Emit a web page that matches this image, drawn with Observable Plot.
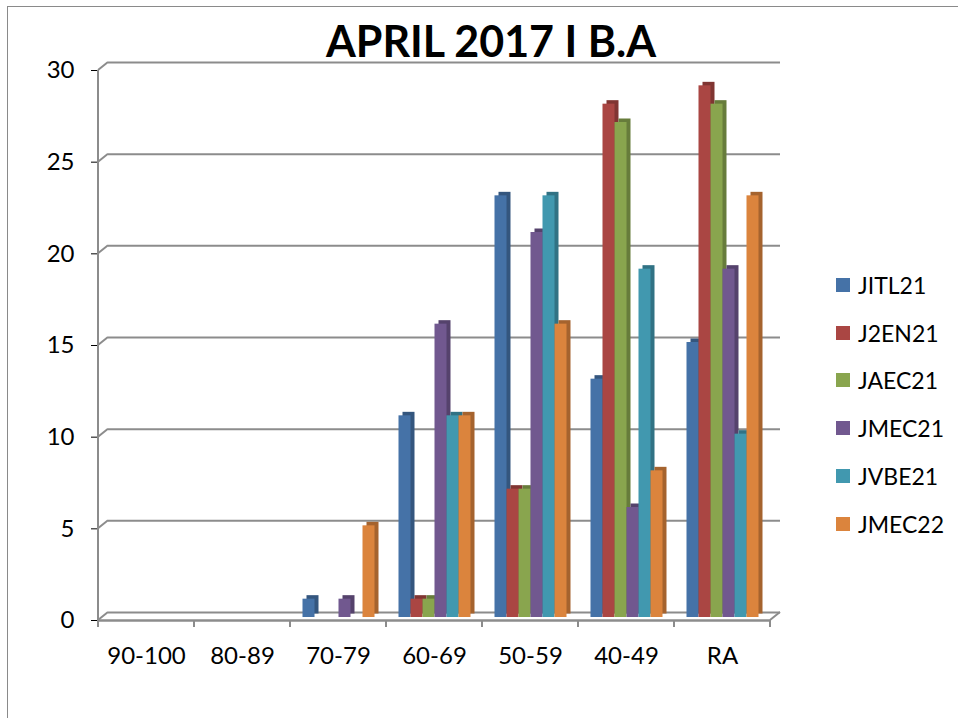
<!DOCTYPE html>
<html><head><meta charset="utf-8">
<script src="https://cdn.jsdelivr.net/npm/d3@7"></script>
<script src="https://cdn.jsdelivr.net/npm/@observablehq/plot@0.6"></script>
<style>
body{margin:0;background:#fff;font-family:Lato,sans-serif}
#wrap{position:relative;width:958px;height:718px;overflow:hidden;background:#fff}
#border{position:absolute;left:7px;top:6px;width:1100px;height:900px;border-left:1.5px solid #8a8a8a;border-top:1.5px solid #8a8a8a}
#title{position:absolute;left:0;width:982px;top:19px;text-align:center;font:bold 43px/43px Lato,sans-serif;color:#000}
#chart{position:absolute;left:0;top:0}
#legend{position:absolute;left:836px;top:261px}
.row{height:47.8px;display:flex;align-items:center;font:23px Lato,sans-serif;color:#000}
.sw{width:14px;height:14px;margin-right:8px}
</style></head>
<body>
<div id="wrap">
  <div id="border"></div>
  <div id="chart"></div>
  <div id="title">APRIL 2017 I B.A</div>
  <div id="legend"></div>
</div>
<script>
const categories = ["90-100","80-89","70-79","60-69","50-59","40-49","RA"];
const series = ["JITL21","J2EN21","JAEC21","JMEC21","JVBE21","JMEC22"];
const JITL21 = [0,0,1,11,23,13,15];
const J2EN21 = [0,0,0,1,7,28,29];
const JAEC21 = [0,0,0,1,7,27,28];
const JMEC21 = [0,0,1,16,21,6,19];
const JVBE21 = [0,0,0,11,23,19,10];
const JMEC22 = [0,0,5,11,16,8,23];
const yTicks = [0,5,10,15,20,25,30];
const colors = ["#4572A7","#AA4643","#89A54E","#71588F","#4198AF","#DB843D"];

const values = [JITL21,J2EN21,JAEC21,JMEC21,JVBE21,JMEC22];
const rows = categories.flatMap((c,i)=>series.map((s,j)=>({cat:c, series:s, value:values[j][i]})));
const front = new Map(series.map((s,j)=>[s,colors[j]]));
const side = new Map(series.map((s,j)=>[s,d3.color(colors[j]).darker(0.8).formatHex()]));
const grey = "#8c8c8c";

const plot = Plot.plot({
  width:958, height:718,
  marginLeft:95, marginRight:186, marginTop:70, marginBottom:98,
  style:{fontFamily:"Lato, sans-serif", fontSize:"24px", color:"#000", background:"transparent", overflow:"visible"},
  facet:{data:rows, x:"cat"},
  fx:{domain:categories, padding:0, axis:"bottom", tickSize:0, tickPadding:26, label:null},
  x:{domain:series, paddingInner:0, paddingOuter:0.82, axis:null},
  y:{domain:[0,30], ticks:yTicks, tickSize:7, tickPadding:17, label:null},
  color:{type:"identity"},
  marks:[
    Plot.ruleY(yTicks, {dx:10, dy:-8, stroke:grey, strokeWidth:2}),
    Plot.barY(rows, {x:"series", y:"value", fill:d=>side.get(d.series), dx:4.5, dy:-6.5, inset:0}),
    Plot.barY(rows, {x:"series", y:"value", fill:d=>front.get(d.series), dx:0.5, dy:-3, inset:0}),
    Plot.ruleY([0], {stroke:grey, strokeWidth:2.5})
  ]
});
document.getElementById("chart").appendChild(plot);

// 3D wall edges and category boundary ticks, positioned through the plot's scales
const y = plot.scale("y"), fx = plot.scale("fx");
const x0 = fx.apply(categories[0]);
const xEnd = fx.apply(categories[categories.length-1]) + fx.bandwidth;
const g = d3.select(plot).append("g").attr("stroke",grey).attr("stroke-width",2).attr("fill","none");
g.append("line").attr("x1",x0).attr("x2",x0).attr("y1",y.apply(30)).attr("y2",y.apply(0)+7);
yTicks.forEach(t=>{
  g.append("line").attr("x1",x0).attr("y1",y.apply(t)).attr("x2",x0+10).attr("y2",y.apply(t)-8);
});
g.append("line").attr("x1",xEnd).attr("y1",y.apply(0)).attr("x2",xEnd+10).attr("y2",y.apply(0)-8);
categories.forEach(c=>{
  const xb = fx.apply(c) + fx.bandwidth;
  g.append("line").attr("x1",xb).attr("x2",xb).attr("y1",y.apply(0)).attr("y2",y.apply(0)+7);
});

const legend = d3.select("#legend");
series.forEach((s,j)=>{
  const r = legend.append("div").attr("class","row");
  r.append("div").attr("class","sw").style("background",colors[j]);
  r.append("span").text(s);
});
</script>
</body></html>
